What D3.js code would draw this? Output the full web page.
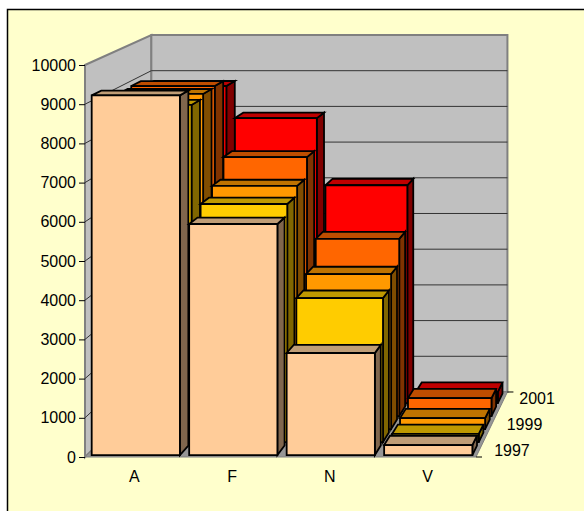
<!DOCTYPE html>
<html><head><meta charset="utf-8">
<script src="https://cdn.jsdelivr.net/npm/d3@7"></script>
<style>html,body{margin:0;padding:0;background:#fff}svg{display:block}text{font-family:"Liberation Sans",Arial,sans-serif;fill:#000}</style>
</head><body><svg id="c" width="584" height="511"></svg>
<script>
const categories = ["A","F","N","V"];
const years = ["1997","1998","1999","2000","2001"];
const yearLabels = ["1997","1999","2001"];
const s1997 = [9200,5910,2610,255];
const s1998 = [8780,6200,3750,210];
const s1999 = [8890,6450,4110,290];
const s2000 = [8920,7000,4790,485];
const s2001 = [8735,7850,6000,310];
const seriesValues = [s1997,s1998,s1999,s2000,s2001];
const faceColors = ["#FFCC99","#FFCC00","#FF9900","#FF6600","#FF0000"];
const topColors  = ["#C09D76","#BF9900","#BF7300","#BF4D00","#BF0000"];
const sideColors = ["#80664D","#806600","#804D00","#803300","#800000"];
const valueTicks = d3.range(0,10001,1000);

const svg = d3.select("#c");
svg.append("rect").attr("x",7.5).attr("y",9.5).attr("width",600).attr("height",520)
   .attr("fill","#FFFFCC").attr("stroke","#000").attr("stroke-width",1.5);

const y = d3.scaleLinear().domain([0,10000]).range([457,65]);
const x = d3.scaleLinear().domain([0,4]).range([85,476]);
const depthEnd = 0.0893, Vx = 828, Vy = -271;
const depth = d3.scaleLinear().domain([0,5]).range([0,depthEnd]);
const P = (u,v,t)=>{const px=x(u),py=y(v);return [px+(Vx-px)*t,py+(Vy-py)*t];};
const line = pts=>"M"+pts.map(p=>p.map(n=>n.toFixed(2)).join(",")).join("L")+"Z";

// walls and floor
const gWall = svg.append("g");
gWall.append("path").attr("d",line([P(0,0,0),P(0,10000,0),P(0,10000,depthEnd),P(0,0,depthEnd)]))
  .attr("fill","#C0C0C0").attr("stroke","#808080").attr("stroke-width",2);
gWall.append("path").attr("d",line([P(0,0,depthEnd),P(0,10000,depthEnd),P(4,10000,depthEnd),P(4,0,depthEnd)]))
  .attr("fill","#C0C0C0").attr("stroke","#808080").attr("stroke-width",2);
gWall.append("path").attr("d",line([P(0,0,0),P(0,0,depthEnd),P(4,0,depthEnd),P(4,0,0)]))
  .attr("fill","#969696").attr("stroke","#808080").attr("stroke-width",1);
gWall.selectAll("path.grid").data(valueTicks.slice(1,-1)).join("path").attr("class","grid")
  .attr("d",v=>{const a=P(0,v,0),b=P(0,v,depthEnd),c=P(4,v,depthEnd);return `M${a}L${b}L${c}`;})
  .attr("fill","none").attr("stroke","#333").attr("stroke-width",1);

// bars, back row first
const barT = 0.013, startT = 0.0027;
const gBars = svg.append("g").attr("stroke","#000").attr("stroke-width",1.8).attr("stroke-linejoin","miter");
d3.range(4,-1,-1).forEach(r=>{
  categories.forEach((c,i)=>{
    const v = seriesValues[r][i];
    const t0 = depth(r)+startT, t1 = t0+barT;
    const u0 = i+0.048, u1 = i+0.953;
    const g = gBars.append("g");
    g.append("path").attr("fill",sideColors[r]).attr("d",line([P(u1,0,t0),P(u1,v,t0),P(u1,v,t1),P(u1,0,t1)]));
    g.append("path").attr("fill",topColors[r]).attr("d",line([P(u0,v,t0),P(u0,v,t1),P(u1,v,t1),P(u1,v,t0)]));
    g.append("path").attr("fill",faceColors[r]).attr("d",line([P(u0,0,t0),P(u0,v,t0),P(u1,v,t0),P(u1,0,t0)]));
  });
});

// value axis
const axisG = svg.append("g").attr("transform","translate(85,0)")
  .call(d3.axisLeft(y).tickValues(valueTicks).tickSize(6).tickPadding(3).tickFormat(d3.format("d")));
axisG.select(".domain").remove();
axisG.selectAll("line").attr("stroke","#000").attr("stroke-width",1);
axisG.selectAll("text").attr("font-size",16).attr("fill","#000").style("font-family",'"Liberation Sans",Arial,sans-serif');

// category labels
svg.append("g").selectAll("text").data(categories).join("text")
  .attr("x",(c,i)=>x(i+0.5)+0.5).attr("y",482).attr("text-anchor","middle").attr("font-size",16).text(c=>c);

// depth labels and ticks
const yearRow = d3.scalePoint().domain(years).range([0.5,4.5]);
svg.append("g").selectAll("text").data(yearLabels).join("text")
  .attr("x",d=>P(4,0,depth(yearRow(d)))[0]+15).attr("y",d=>P(4,0,depth(yearRow(d)))[1]+5.5)
  .attr("font-size",16).text(d=>d);
svg.append("g").selectAll("line").data([0,5]).join("line")
  .attr("x1",d=>P(4,0,depth(d))[0]).attr("y1",d=>P(4,0,depth(d))[1])
  .attr("x2",d=>P(4,0,depth(d))[0]+6).attr("y2",d=>P(4,0,depth(d))[1])
  .attr("stroke","#000").attr("stroke-width",1);
</script></body></html>
